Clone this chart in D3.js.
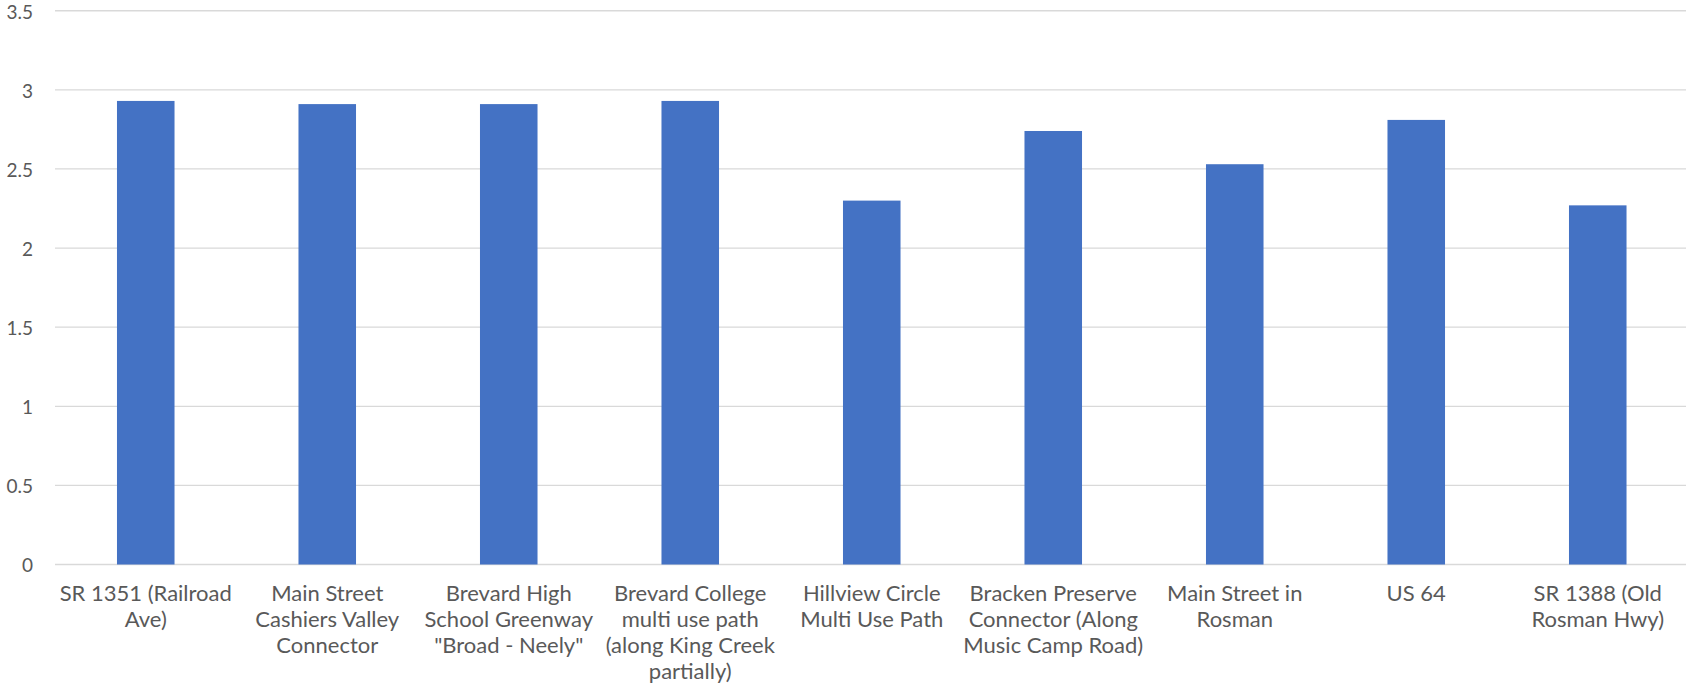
<!DOCTYPE html>
<html lang="en">
<head>
  <meta charset="UTF-8">
  <title>Bar Chart</title>
  <style>
    body {
      margin: 0;
      background-color: white;
      font-family: Lato, "Noto Sans", sans-serif;
    }

    .grid line {
      stroke: #d9d9d9;
      stroke-width: 1.3px;
    }

    .bar {
      fill: #4472c4;
    }

    .tick-label {
      fill: #595959;
      font-size: 19px;
    }

    .cat-label {
      fill: #595959;
      font-size: 22px;
    }
  </style>
</head>
<body>
  <div id="chart"></div>

  <script src="https://d3js.org/d3.v7.min.js"></script>
  <script>
    // Category names (line breaks as they wrap in the chart)
    const categories = [
      'SR 1351 (Railroad\nAve)',
      'Main Street\nCashiers Valley\nConnector',
      'Brevard High\nSchool Greenway\n"Broad - Neely"',
      'Brevard College\nmulti use path\n(along King Creek\npartially)',
      'Hillview Circle\nMulti Use Path',
      'Bracken Preserve\nConnector (Along\nMusic Camp Road)',
      'Main Street in\nRosman',
      'US 64',
      'SR 1388 (Old\nRosman Hwy)'
    ];
    const values = [2.93, 2.91, 2.91, 2.93, 2.30, 2.74, 2.53, 2.81, 2.27];
    const yTicks = [0, 0.5, 1, 1.5, 2, 2.5, 3, 3.5];

    const width = 1686;
    const height = 683;
    const margin = { top: 10.75, right: -2.5, bottom: 118.5, left: 55 };

    const svg = d3.select('#chart')
      .append('svg')
      .attr('width', width)
      .attr('height', height);

    const xScale = d3.scaleBand()
      .domain(categories)
      .range([margin.left, width - margin.right])
      .paddingInner(0.683)
      .paddingOuter(0.683 / 2);

    const yScale = d3.scaleLinear()
      .domain([0, 3.5])
      .range([height - margin.bottom, margin.top]);

    // Gridlines
    svg.append('g')
      .attr('class', 'grid')
      .selectAll('line')
      .data(yTicks)
      .enter()
      .append('line')
      .attr('x1', margin.left)
      .attr('x2', width)
      .attr('y1', d => yScale(d))
      .attr('y2', d => yScale(d));

    // Y tick labels
    svg.append('g')
      .selectAll('text')
      .data(yTicks)
      .enter()
      .append('text')
      .attr('class', 'tick-label')
      .attr('x', 33)
      .attr('y', d => yScale(d))
      .attr('dy', '0.42em')
      .attr('text-anchor', 'end')
      .text(d => d);

    // Bars
    svg.selectAll('.bar')
      .data(values)
      .enter()
      .append('rect')
      .attr('class', 'bar')
      .attr('x', (d, i) => xScale(categories[i]))
      .attr('y', d => yScale(d))
      .attr('width', xScale.bandwidth())
      .attr('height', d => yScale(0) - yScale(d));

    // Category labels
    const labels = svg.append('g')
      .selectAll('text')
      .data(categories)
      .enter()
      .append('text')
      .attr('class', 'cat-label')
      .attr('text-anchor', 'middle')
      .attr('x', d => xScale(d) + xScale.bandwidth() / 2)
      .attr('y', yScale(0) + 36);

    labels.each(function(d) {
      const t = d3.select(this);
      d.split('\n').forEach((line, i) => {
        t.append('tspan')
          .attr('x', xScale(d) + xScale.bandwidth() / 2)
          .attr('dy', i === 0 ? 0 : 26.3)
          .text(line);
      });
    });
  </script>
</body>
</html>
